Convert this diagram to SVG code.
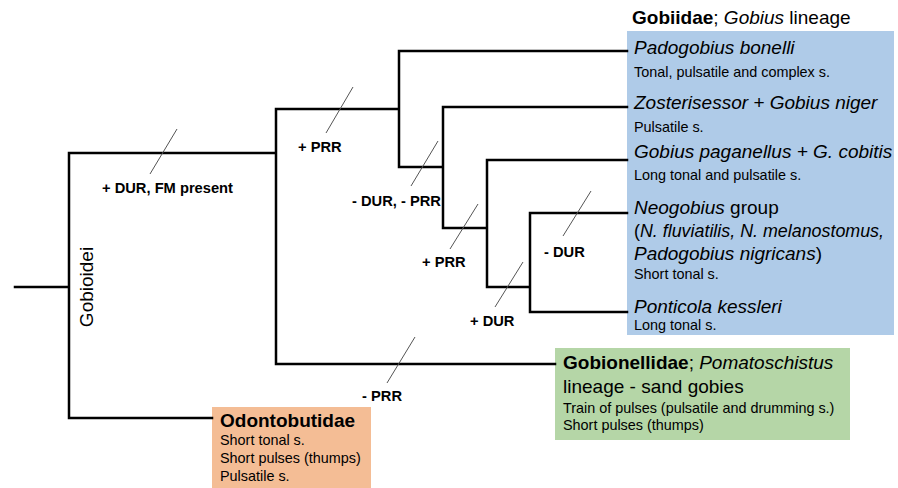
<svg xmlns="http://www.w3.org/2000/svg" width="898" height="488" viewBox="0 0 898 488">
<style>
.br{stroke:#000;stroke-width:2.5;fill:none;stroke-linecap:square}
.tk{stroke:#555;stroke-width:1;fill:none}
.ev{font-family:"Liberation Sans",Arial,sans-serif;font-size:14.7px;font-weight:bold;fill:#000}
.big{font-family:"Liberation Sans",Arial,sans-serif;font-size:19px;fill:#000}
.sm{font-family:"Liberation Sans",Arial,sans-serif;font-size:14.4px;fill:#000}
.i{font-style:italic}
.b{font-weight:bold}
</style>
<rect width="898" height="488" fill="#fff"/>
<g id="gobiidae">
<rect x="627" y="31" width="267" height="304" fill="#afcbe8"/>
<text class="big" x="632" y="24"><tspan class="b">Gobiidae</tspan>; <tspan class="i">Gobius</tspan> lineage</text>
<text class="big i" x="634" y="54">Padogobius bonelli</text>
<text class="sm" x="634" y="77">Tonal, pulsatile and complex s.</text>
<text class="big i" x="634" y="109">Zosterisessor + Gobius niger</text>
<text class="sm" x="634" y="132">Pulsatile s.</text>
<text class="big i" x="634" y="158">Gobius paganellus + G. cobitis</text>
<text class="sm" x="634" y="180">Long tonal and pulsatile s.</text>
<text class="big" x="634" y="214"><tspan class="i">Neogobius</tspan> group</text>
<text class="big i" x="634" y="237" textLength="250" lengthAdjust="spacingAndGlyphs"><tspan font-style="normal">(</tspan>N. fluviatilis, N. melanostomus,</text>
<text class="big" x="634" y="260"><tspan class="i">Padogobius nigricans</tspan>)</text>
<text class="sm" x="634" y="279">Short tonal s.</text>
<text class="big i" x="634" y="313">Ponticola kessleri</text>
<text class="sm" x="634" y="330">Long tonal s.</text>
</g>
<g id="gobionellidae">
<rect x="555" y="348" width="295" height="92" fill="#b5d6a7"/>
<text class="big" x="563" y="369"><tspan class="b">Gobionellidae</tspan>; <tspan class="i">Pomatoschistus</tspan></text>
<text class="big" x="563" y="393">lineage - sand gobies</text>
<text class="sm" x="563" y="413">Train of pulses (pulsatile and drumming s.)</text>
<text class="sm" x="563" y="430">Short pulses (thumps)</text>
</g>
<g id="odontobutidae">
<rect x="212" y="407" width="159" height="81" fill="#f4bd95"/>
<text class="big b" x="220" y="427">Odontobutidae</text>
<text class="sm" x="220" y="445">Short tonal s.</text>
<text class="sm" x="220" y="463">Short pulses (thumps)</text>
<text class="sm" x="220" y="481">Pulsatile s.</text>
</g>
<g id="connectors">
<path class="br" d="M15 287H69M69 153V418H212M69 153H276M276 109V364H555M276 109H399M399 51V167M399 51H627M399 167H443M443 107V228M443 107H627M443 228H487M487 160V287M487 160H627M487 287H530M530 213V312M530 213H627M530 312H627"/>
<path class="tk" d="M177 129L150 174M353 87L326 133M438 141L411 186M478 204L450 249M591 191L563 236M523 262L495 307M415 337L387 383"/>
</g>
<g id="labels">
<text class="big" transform="translate(93,287) rotate(-90)" text-anchor="middle" font-size="18.5">Gobioidei</text>
<text class="ev" x="102" y="193">+ DUR, FM present</text>
<text class="ev" x="298" y="152">+ PRR</text>
<text class="ev" x="352" y="206">- DUR, - PRR</text>
<text class="ev" x="422" y="267">+ PRR</text>
<text class="ev" x="544" y="257">- DUR</text>
<text class="ev" x="470" y="326">+ DUR</text>
<text class="ev" x="362" y="401">- PRR</text>
</g>
</svg>
